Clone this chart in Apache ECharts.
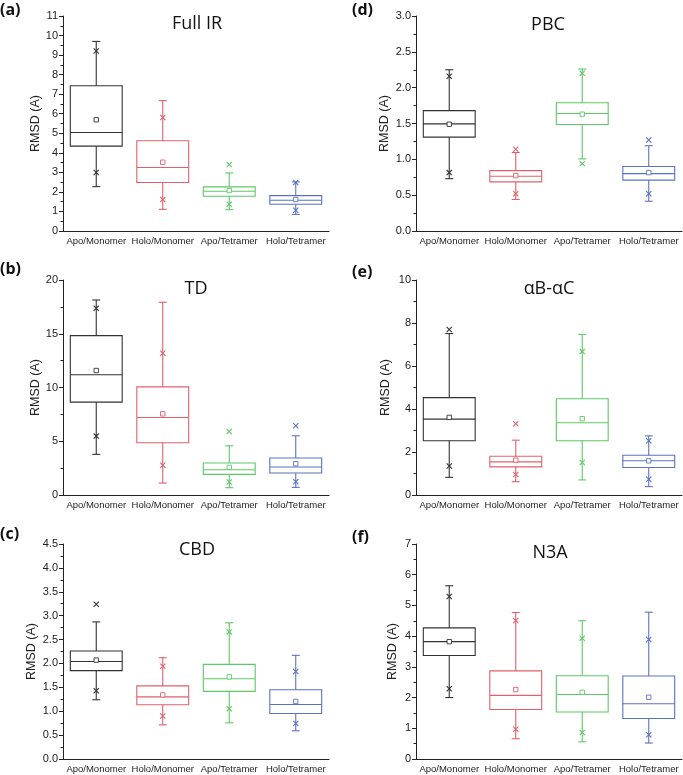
<!DOCTYPE html>
<html>
<head>
<meta charset="utf-8">
<script src="https://cdn.jsdelivr.net/npm/echarts@6/dist/echarts.min.js"></script>
<style>
html,body{margin:0;padding:0;background:#fff;}
#chart{width:683px;height:775px;}
</style>
</head>
<body>
<div id="chart"></div>
<script>
// Categories
const categories = ['Apo/Monomer', 'Holo/Monomer', 'Apo/Tetramer', 'Holo/Tetramer'];

// Each row: [whisker min, Q1, median, Q3, whisker max, mean, low ×, high ×]
const fullIR = [
  [2.27, 4.34, 5.04, 7.43, 9.70, 5.69, 2.99, 9.21],
  [1.11, 2.48, 3.25, 4.62, 6.67, 3.52, 1.61, 5.81],
  [1.09, 1.78, 2.03, 2.26, 2.97, 2.07, 1.37, 3.40],
  [0.85, 1.37, 1.57, 1.81, 2.51, 1.61, 1.06, 2.48]
];
const td = [
  [3.78, 8.64, 11.18, 14.83, 18.14, 11.58, 5.48, 17.37],
  [1.11, 4.86, 7.21, 10.06, 17.93, 7.55, 2.76, 13.19],
  [0.68, 1.92, 2.35, 2.97, 4.58, 2.57, 1.21, 5.91],
  [0.71, 2.04, 2.60, 3.44, 5.51, 2.91, 1.24, 6.44]
];
const cbd = [
  [1.24, 1.85, 2.04, 2.26, 2.87, 2.07, 1.43, 3.24],
  [0.715, 1.135, 1.30, 1.53, 2.12, 1.34, 0.90, 1.94],
  [0.757, 1.415, 1.68, 1.98, 2.85, 1.72, 1.05, 2.66],
  [0.59, 0.953, 1.14, 1.45, 2.17, 1.205, 0.743, 1.83]
];
const pbc = [
  [0.73, 1.31, 1.495, 1.68, 2.25, 1.49, 0.815, 2.16],
  [0.44, 0.685, 0.764, 0.843, 1.095, 0.773, 0.52, 1.14],
  [1.006, 1.486, 1.64, 1.79, 2.26, 1.63, 0.94, 2.20],
  [0.415, 0.71, 0.80, 0.90, 1.19, 0.815, 0.52, 1.27]
];
const abac = [
  [0.82, 2.52, 3.53, 4.53, 7.51, 3.61, 1.35, 7.70],
  [0.62, 1.31, 1.54, 1.80, 2.55, 1.62, 0.95, 3.31],
  [0.70, 2.52, 3.36, 4.48, 7.47, 3.55, 1.51, 6.67],
  [0.39, 1.28, 1.59, 1.85, 2.75, 1.59, 0.73, 2.52]
];
const n3a = [
  [2.00, 3.37, 3.82, 4.27, 5.64, 3.82, 2.29, 5.29],
  [0.66, 1.61, 2.07, 2.87, 4.77, 2.26, 0.97, 4.51],
  [0.56, 1.53, 2.10, 2.71, 4.50, 2.17, 0.86, 3.93],
  [0.52, 1.32, 1.80, 2.70, 4.78, 2.01, 0.79, 3.89]
];

// Panel titles, letters and y-axis ranges
const panelTitles = ['Full IR', 'TD', 'CBD', 'PBC', 'αB-αC', 'N3A'];
const panelLetters = ['(a)', '(b)', '(c)', '(d)', '(e)', '(f)'];
const yMax = [11, 20, 4.5, 3.0, 10, 7];
const yInterval = [1, 5, 0.5, 0.5, 2, 1];
const yDecimals = [0, 0, 1, 1, 0, 0];
const panelData = [fullIR, td, cbd, pbc, abac, n3a];

// Styling / layout
const colors = ['#333333', '#e0606a', '#5ec866', '#5b72c0'];
const gridLeft = [63, 63, 63, 416, 416, 416];
const gridTop = [16, 280, 544, 16, 280, 544];
const gridW = 266, gridH = 215;
const nameGaps = [21, 21, 25, 25, 24, 17];
const titlePos = [[197, 24], [196, 289], [197, 550], [548, 25], [549, 289], [550, 553]];
const letterPos = [[0, 2], [0, 261], [0, 526], [352, 2], [352, 264], [352, 529]];

function renderBox(params, api) {
  const cat = api.value(0);
  const c = colors[cat];
  const band = api.size([1, 0])[0];
  const half = band * 0.39;
  const capHalf = 4;
  const p = (v) => api.coord([cat, v]);
  const pMin = p(api.value(1)), pQ1 = p(api.value(2)), pMed = p(api.value(3));
  const pQ3 = p(api.value(4)), pMax = p(api.value(5)), pMean = p(api.value(6));
  const pLo = p(api.value(7)), pHi = p(api.value(8));
  const x = pMed[0];
  const ls = { stroke: c, lineWidth: 1.1, fill: null };
  const line = (x1, y1, x2, y2) => ({ type: 'line', shape: { x1, y1, x2, y2 }, style: ls });
  const cross = (pt) => {
    const s = 2.6;
    return [line(pt[0] - s, pt[1] - s, pt[0] + s, pt[1] + s), line(pt[0] - s, pt[1] + s, pt[0] + s, pt[1] - s)];
  };
  const children = [
    { type: 'rect', shape: { x: x - half, y: pQ3[1], width: half * 2, height: pQ1[1] - pQ3[1] }, style: { stroke: c, lineWidth: 1.1, fill: 'transparent' } },
    line(x - half, pMed[1], x + half, pMed[1]),
    line(x, pQ3[1], x, pMax[1]),
    line(x, pQ1[1], x, pMin[1]),
    line(x - capHalf, pMax[1], x + capHalf, pMax[1]),
    line(x - capHalf, pMin[1], x + capHalf, pMin[1]),
    { type: 'rect', shape: { x: pMean[0] - 2.2, y: pMean[1] - 2.2, width: 4.4, height: 4.4 }, style: { stroke: c, lineWidth: 0.9, fill: '#fff' } }
  ].concat(cross(pLo), cross(pHi));
  return { type: 'group', children };
}

const grids = [], xAxes = [], yAxes = [], series = [], graphics = [];
for (let i = 0; i < 6; i++) {
  grids.push({ left: gridLeft[i], top: gridTop[i], width: gridW, height: gridH, containLabel: false });
  xAxes.push({
    type: 'category', gridIndex: i, data: categories,
    axisLine: { lineStyle: { color: '#222', width: 1 } },
    axisTick: { alignWithLabel: true, length: 4, lineStyle: { color: '#222' } },
    axisLabel: { color: '#222', fontSize: 9.5, fontFamily: 'Liberation Sans, Arial', margin: 5, interval: 0 },
    splitLine: { show: false }
  });
  const dec = yDecimals[i];
  yAxes.push({
    type: 'value', gridIndex: i, min: 0, max: yMax[i], interval: yInterval[i],
    name: 'RMSD (A)', nameLocation: 'middle', nameGap: nameGaps[i],
    nameTextStyle: { color: '#222', fontSize: 12.5, fontFamily: 'Liberation Sans, Arial' },
    axisLine: { show: true, lineStyle: { color: '#222', width: 1 } },
    axisTick: { show: true, length: 4, lineStyle: { color: '#222' } },
    minorTick: { show: true, splitNumber: 2, length: 2.5, lineStyle: { color: '#222' } },
    axisLabel: { color: '#222', fontSize: 11, fontFamily: 'Liberation Sans, Arial', margin: 5,
      formatter: (v) => v.toFixed(dec) },
    splitLine: { show: false }
  });
  const rows = panelData[i].map((r, k) => [k].concat(r));
  series.push({
    type: 'custom', xAxisIndex: i, yAxisIndex: i, renderItem: renderBox,
    encode: { x: 0, y: [1, 2, 3, 4, 5, 6, 7, 8] },
    data: rows, silent: true, animation: false
  });
  graphics.push({
    type: 'text', x: titlePos[i][0], y: titlePos[i][1],
    style: { text: panelTitles[i], fill: '#111', font: '18px "Open Sans", sans-serif', textAlign: 'center', textVerticalAlign: 'middle' }
  });
  graphics.push({
    type: 'text', x: letterPos[i][0], y: letterPos[i][1],
    style: { text: panelLetters[i], fill: '#111', font: 'bold 16px "Open Sans", sans-serif', textAlign: 'left', textVerticalAlign: 'top' }
  });
}

const chart = echarts.init(document.getElementById('chart'), null, { renderer: 'canvas' });
chart.setOption({
  backgroundColor: '#fff',
  animation: false,
  grid: grids, xAxis: xAxes, yAxis: yAxes, series: series, graphic: graphics
});
</script>
</body>
</html>
